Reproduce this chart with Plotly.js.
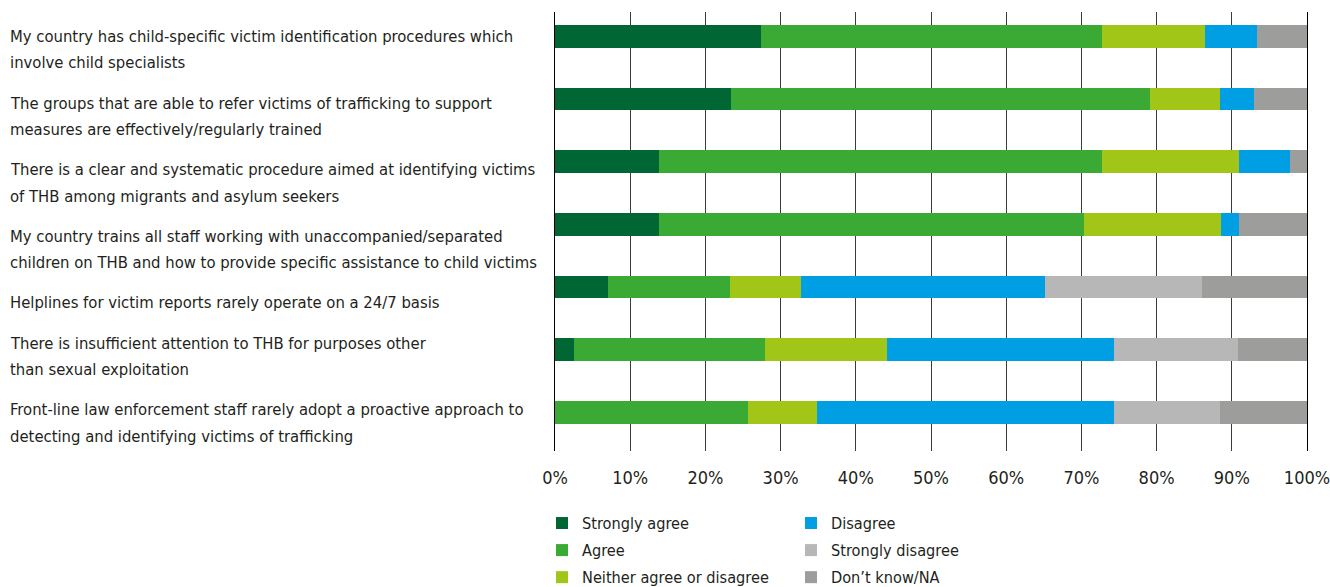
<!DOCTYPE html>
<html>
<head>
<meta charset="utf-8">
<script src="https://cdn.plot.ly/plotly-3.0.1.min.js"></script>
<style>html,body{margin:0;padding:0;background:#fff;}#chart{width:1330px;height:587px;}</style>
</head>
<body>
<div id="chart"></div>
<script>
// ---- data ----
const categories = [
  "My country has child-specific victim identification procedures which<br>involve child specialists",
  "The groups that are able to refer victims of trafficking to support<br>measures are effectively/regularly trained",
  "There is a clear and systematic procedure aimed at identifying victims<br>of THB among migrants and asylum seekers",
  "My country trains all staff working with unaccompanied/separated<br>children on THB and how to provide specific assistance to child victims",
  "Helplines for victim reports rarely operate on a 24/7 basis",
  "There is insufficient attention to THB for purposes other<br>than sexual exploitation",
  "Front-line law enforcement staff rarely adopt a proactive approach to<br>detecting and identifying victims of trafficking"
];
const seriesNames = ["Strongly agree", "Agree", "Neither agree or disagree", "Disagree", "Strongly disagree", "Don\u2019t know/NA"];
const stronglyAgree    = [27.4, 23.4, 13.8, 13.8, 7.1, 2.5, 0];
const agree            = [45.3, 55.7, 58.9, 56.6, 16.2, 25.4, 25.6];
const neither          = [13.8, 9.3, 18.2, 18.2, 9.4, 16.3, 9.3];
const disagree         = [6.8, 4.6, 6.9, 2.3, 32.4, 30.2, 39.5];
const stronglyDisagree = [0, 0, 0, 0, 21.0, 16.4, 14.0];
const dontKnow         = [6.7, 7.0, 2.2, 9.1, 13.9, 9.2, 11.6];
const xTickVals = [0,10,20,30,40,50,60,70,80,90,100];
const xTickText = ["0%","10%","20%","30%","40%","50%","60%","70%","80%","90%","100%"];

// ---- styling ----
const colors = ["#006633", "#3aaa35", "#a2c617", "#009fe3", "#b7b7b7", "#9d9d9c"];
const values = [stronglyAgree, agree, neither, disagree, stronglyDisagree, dontKnow];
const FONT = '"Liberation Sans Narrow", "Arial Narrow", "DejaVu Sans Condensed", sans-serif';
const TXT = "#231f20";
const W = 1330, H = 587;
const M = {l: 555, r: 23, t: 12, b: 136, autoexpand: false};
const plotW = W - M.l - M.r, plotH = H - M.t - M.b;
const px2x = p => (p - M.l) / plotW;
const px2y = p => 1 - (p - M.t) / plotH;

const traces = seriesNames.map((name, i) => ({
  type: "bar",
  orientation: "h",
  name: name,
  x: values[i],
  y: categories,
  width: 0.36,
  marker: {color: colors[i], line: {width: 0}},
  legend: i < 3 ? "legend" : "legend2",
  legendgroup: "g" + i,
  hoverinfo: "x+name"
}));

// category labels laid out as a left-aligned text flow
const annotations = [];
const lineH = 26.3, paraGap = 14;
let cy = 36.5;
categories.forEach(c => {
  c.split("<br>").forEach(line => {
    annotations.push({
      xref: "paper", yref: "paper",
      x: px2x(8), y: px2y(cy),
      xanchor: "left", yanchor: "middle", align: "left",
      text: line, showarrow: false,
      font: {family: FONT, size: 16.5, color: TXT}
    });
    cy += lineH;
  });
  cy += paraGap;
});

const legendCommon = {
  orientation: "v",
  font: {family: FONT, size: 16.2, color: TXT},
  tracegroupgap: 3,
  yanchor: "top", xanchor: "left",
  bgcolor: "rgba(0,0,0,0)",
  traceorder: "grouped"
};

const layout = {
  width: W, height: H,
  margin: M,
  barmode: "stack",
  paper_bgcolor: "#fff", plot_bgcolor: "#fff",
  font: {family: FONT, size: 16.5, color: TXT},
  showlegend: true,
  legend: Object.assign({}, legendCommon, {x: px2x(542), y: px2y(506)}),
  legend2: Object.assign({}, legendCommon, {x: px2x(791), y: px2y(506)}),
  xaxis: {
    range: [0, 100],
    tickvals: xTickVals, ticktext: xTickText,
    showgrid: true, gridcolor: "#3c3c3c", gridwidth: 1,
    zeroline: false,
    showline: false,
    ticks: "outside", ticklen: 10, tickcolor: "rgba(0,0,0,0)",
    ticklabeloverflow: "allow",
    tickfont: {family: FONT, size: 18, color: TXT},
    fixedrange: true
  },
  yaxis: {
    type: "category",
    range: [6.617, -0.388],
    showticklabels: false, showgrid: false, zeroline: false, ticks: "",
    showline: true, mirror: true, linecolor: "#000", linewidth: 1.3,
    fixedrange: true
  },
  annotations: annotations
};

Plotly.newPlot("chart", traces, layout, {displayModeBar: false, staticPlot: true});
</script>
</body>
</html>
